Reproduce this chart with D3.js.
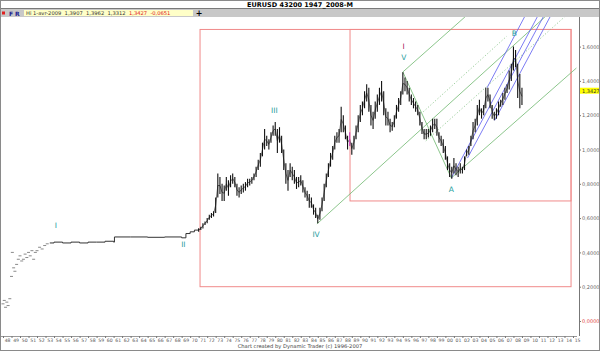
<!DOCTYPE html>
<html>
<head>
<meta charset="utf-8">
<script src="https://cdn.jsdelivr.net/npm/d3@7"></script>
<style>
  body { margin: 0; background: #fff; }
  svg { display: block; font-family: Tahoma, "DejaVu Sans", sans-serif; }
</style>
</head>
<body>
<div id="chart"></div>
<script>
// ---- data ----
// early scattered prints 1948-1953 : [year, price]
const earlyDashes = [
  [1948.0, 0.10], [1948.15, 0.12], [1948.3, 0.08], [1948.45, 0.11], [1948.6, 0.09], [1948.8, 0.13],
  [1949.0, 0.26], [1949.1, 0.40], [1949.25, 0.31], [1949.4, 0.29], [1949.6, 0.33], [1949.8, 0.36],
  [1950.0, 0.38], [1950.2, 0.35], [1950.4, 0.36], [1950.6, 0.39], [1950.8, 0.37], [1951.0, 0.40],
  [1951.2, 0.38], [1951.4, 0.41], [1951.6, 0.36], [1951.8, 0.40], [1952.0, 0.41], [1952.3, 0.43],
  [1952.6, 0.42], [1952.9, 0.44], [1953.2, 0.45]
]
// almost fixed rate 1953-1971 : [year, price]
const flatLine = [
  [1953.5, 0.455], [1954, 0.46], [1955, 0.455], [1956, 0.46], [1957, 0.455], [1958, 0.46],
  [1959, 0.46], [1960, 0.465], [1961, 0.46], [1961.1, 0.49], [1963, 0.49], [1965, 0.488],
  [1967, 0.49], [1969, 0.485], [1969.5, 0.51], [1970, 0.52], [1970.5, 0.53], [1971, 0.54]
]
// floating period, quarterly bars : [year, high, low]
const bars = [
  [1971.00,0.54,0.52],[1971.25,0.55,0.53],[1971.50,0.57,0.54],[1971.75,0.58,0.56],
  [1972.00,0.60,0.57],[1972.25,0.62,0.59],[1972.50,0.63,0.60],[1972.75,0.64,0.61],
  [1973.00,0.72,0.63],[1973.25,0.86,0.72],[1973.50,0.84,0.74],[1973.75,0.80,0.70],
  [1974.00,0.79,0.70],[1974.25,0.84,0.76],[1974.50,0.82,0.73],[1974.75,0.85,0.78],
  [1975.00,0.86,0.80],[1975.25,0.84,0.78],[1975.50,0.80,0.73],[1975.75,0.78,0.72],
  [1976.00,0.79,0.74],[1976.25,0.80,0.75],[1976.50,0.81,0.76],[1976.75,0.83,0.78],
  [1977.00,0.83,0.79],[1977.25,0.84,0.80],[1977.50,0.86,0.82],[1977.75,0.90,0.84],
  [1978.00,0.94,0.88],[1978.25,0.98,0.90],[1978.50,1.04,0.96],[1978.75,1.12,1.00],
  [1979.00,1.08,1.02],[1979.25,1.06,1.00],[1979.50,1.10,1.04],[1979.75,1.14,1.08],
  [1980.00,1.16,1.08],[1980.25,1.12,0.98],[1980.50,1.13,1.04],[1980.75,1.08,0.98],
  [1981.00,1.00,0.88],[1981.25,0.92,0.80],[1981.50,0.88,0.76],[1981.75,0.92,0.84],
  [1982.00,0.90,0.82],[1982.25,0.88,0.80],[1982.50,0.84,0.77],[1982.75,0.84,0.78],
  [1983.00,0.85,0.79],[1983.25,0.82,0.75],[1983.50,0.78,0.72],[1983.75,0.76,0.70],
  [1984.00,0.74,0.66],[1984.25,0.72,0.66],[1984.50,0.68,0.62],[1984.75,0.66,0.60],
  [1985.00,0.62,0.57],[1985.25,0.66,0.59],[1985.50,0.72,0.64],[1985.75,0.80,0.70],
  [1986.00,0.86,0.78],[1986.25,0.92,0.84],[1986.50,0.98,0.90],[1986.75,1.02,0.94],
  [1987.00,1.08,1.00],[1987.25,1.10,1.04],[1987.50,1.12,1.04],[1987.75,1.25,1.10],
  [1988.00,1.20,1.10],[1988.25,1.14,1.06],[1988.50,1.08,1.00],[1988.75,1.10,1.02],
  [1989.00,1.04,0.97],[1989.25,1.08,1.00],[1989.50,1.14,1.06],[1989.75,1.20,1.10],
  [1990.00,1.26,1.16],[1990.25,1.28,1.20],[1990.50,1.34,1.24],[1990.75,1.38,1.28],
  [1991.00,1.36,1.22],[1991.25,1.26,1.14],[1991.50,1.22,1.12],[1991.75,1.28,1.18],
  [1992.00,1.32,1.22],[1992.25,1.36,1.26],[1992.50,1.40,1.28],[1992.75,1.34,1.20],
  [1993.00,1.24,1.14],[1993.25,1.22,1.14],[1993.50,1.18,1.10],[1993.75,1.16,1.11],
  [1994.00,1.20,1.13],[1994.25,1.26,1.18],[1994.50,1.30,1.22],[1994.75,1.34,1.26],
  [1995.00,1.45,1.32],[1995.25,1.42,1.34],[1995.50,1.40,1.32],[1995.75,1.36,1.28],
  [1996.00,1.32,1.26],[1996.25,1.30,1.24],[1996.50,1.28,1.22],[1996.75,1.26,1.20],
  [1997.00,1.22,1.14],[1997.25,1.16,1.09],[1997.50,1.12,1.06],[1997.75,1.12,1.06],
  [1998.00,1.12,1.07],[1998.25,1.14,1.08],[1998.50,1.18,1.10],[1998.75,1.18,1.12],
  [1999.00,1.18,1.08],[1999.25,1.10,1.04],[1999.50,1.08,1.02],[1999.75,1.06,0.98],
  [2000.00,1.02,0.94],[2000.25,0.96,0.88],[2000.50,0.92,0.84],[2000.75,0.90,0.83],
  [2001.00,0.95,0.86],[2001.25,0.92,0.85],[2001.50,0.90,0.84],[2001.75,0.92,0.86],
  [2002.00,0.90,0.86],[2002.25,0.96,0.88],[2002.50,1.00,0.96],[2002.75,1.02,0.97],
  [2003.00,1.08,1.02],[2003.25,1.16,1.06],[2003.50,1.18,1.10],[2003.75,1.26,1.14],
  [2004.00,1.29,1.20],[2004.25,1.24,1.18],[2004.50,1.26,1.20],[2004.75,1.36,1.24],
  [2005.00,1.36,1.28],[2005.25,1.32,1.24],[2005.50,1.26,1.18],[2005.75,1.22,1.17],
  [2006.00,1.24,1.18],[2006.25,1.28,1.20],[2006.50,1.29,1.25],[2006.75,1.33,1.26],
  [2007.00,1.36,1.29],[2007.25,1.38,1.33],[2007.50,1.46,1.35],[2007.75,1.50,1.40],
  [2008.00,1.60,1.46],[2008.25,1.58,1.48],[2008.50,1.50,1.30],[2008.75,1.44,1.24],
  [2009.00,1.36,1.26]
]
// wave count : [year, price, label, colour]
const waveLabels = [
  [1954.2, 0.54, "I", "#1c9c9c"], [1969.2, 0.43, "II", "#1c9c9c"], [1979.9, 1.21, "III", "#1c9c9c"],
  [1984.8, 0.49, "IV", "#1c9c9c"], [1995.1, 1.52, "V", "#1c9c9c"], [1995.1, 1.585, "I", "#a0205a"],
  [2000.7, 0.75, "A", "#1c9c9c"], [2008.1, 1.66, "B", "#1c9c9c"]
]
// boxes : [year0, priceTop, year1, priceBottom]
const boxes = [[1971.16, 1.70, 2014.77, 0.20], [1988.79, 1.70, 2014.77, 0.70]]
// trend lines : [[year, price], [year, price]]
const greenLines = [
  [[1995.0, 1.452], [2002.3, 1.773]],
  [[1984.9, 0.566], [2011.7, 1.773]],
  [[2000.7, 0.834], [2015.4, 1.475]],
  [[1995.0, 1.452], [2000.7, 0.834]]
]
const dottedLines = [
  [[1997.7, 1.05], [2014.0, 1.773]],
  [[1997.4, 1.22], [2007.2, 1.66]]
]
const blueLines = [
  [[2000.7, 0.834], [2010.8, 1.773]],
  [[2004.9, 1.360], [2009.3, 1.773]],
  [[2005.8, 1.170], [2012.3, 1.773]],
  [[2002.6, 0.95], [2011.5, 1.773]]
]
const priceTicks = [0, 0.2, 0.4, 0.6, 0.8, 1.0, 1.2, 1.4, 1.6]
const yearTicks = d3.range(1948, 2016)
const lastPrice = 1.3427
const title = "EURUSD 43200 1947_2008-M"
const quoteBlack = "Hi 1-avr-2009  1,3907  1,3962  1,3312  "
const quoteRed = "1,3427  -0,0651"
const credit = "Chart created by Dynamic Trader  (c) 1996-2007"

// ---- drawing ----
const width = 600, height = 351
const svg = d3.select("#chart").append("svg")
  .attr("width", width).attr("height", height)

const x = d3.scaleLinear().domain([1948, 2015]).range([3, 573])
const y = d3.scaleLinear().domain([0, 1.6]).range([321, 46.6])
const fmt = v => d3.format(".4f")(v).replace(".", ",")

svg.append("rect").attr("width", width).attr("height", height).attr("fill", "#fff")

// tool bar + title
svg.append("rect").attr("x", 0).attr("y", 9).attr("width", width).attr("height", 8).attr("fill", "#c8c8c8")
svg.append("line").attr("x1", 0).attr("x2", width).attr("y1", 8.5).attr("y2", 8.5).attr("stroke", "#7a7a7a")
svg.append("text").attr("x", 300).attr("y", 6.6).attr("text-anchor", "middle")
  .attr("font-size", 6.5).attr("font-weight", "bold").text(title)
svg.append("rect").attr("x", 2).attr("y", 11.5).attr("width", 3).attr("height", 3).attr("fill", "#e02020")
svg.append("text").attr("x", 9).attr("y", 15.5).attr("font-size", 6).attr("font-weight", "bold")
  .attr("fill", "#202090").text("F")
svg.append("text").attr("x", 15).attr("y", 15.5).attr("font-size", 6).attr("font-weight", "bold")
  .attr("fill", "#202090").text("R")
svg.append("rect").attr("x", 24).attr("y", 10).attr("width", 169).attr("height", 6).attr("fill", "#ffffc8")
const q = svg.append("text").attr("x", 26).attr("y", 15).attr("font-size", 5.2).attr("xml:space", "preserve")
q.append("tspan").attr("fill", "#333").text(quoteBlack)
q.append("tspan").attr("fill", "#e02020").text(quoteRed)
svg.append("text").attr("x", 199).attr("y", 15.8).attr("text-anchor", "middle")
  .attr("font-size", 8).attr("font-weight", "bold").text("+")

// plot area
svg.append("clipPath").attr("id", "plot")
  .append("rect").attr("x", 1).attr("y", 17).attr("width", 578).attr("height", 319)
const g = svg.append("g").attr("clip-path", "url(#plot)")

// boxes
g.selectAll(".box").data(boxes).enter().append("rect")
  .attr("class", "box")
  .attr("x", d => x(d[0])).attr("y", d => y(d[1]))
  .attr("width", d => x(d[2]) - x(d[0])).attr("height", d => y(d[3]) - y(d[1]))
  .attr("fill", "none").attr("stroke", "#f08a8a").attr("stroke-width", 1)

const seg = (sel, data, color, dash) => sel.selectAll(null).data(data).enter().append("line")
  .attr("x1", d => x(d[0][0])).attr("y1", d => y(d[0][1]))
  .attr("x2", d => x(d[1][0])).attr("y2", d => y(d[1][1]))
  .attr("stroke", color).attr("stroke-width", 0.8)
  .attr("stroke-dasharray", dash)

seg(g, greenLines, "#6fb86f", null)
seg(g, dottedLines, "#7fbf7f", "1.2,2")
seg(g, blueLines, "#5a5af0", null)

// early prints
g.selectAll(".dash").data(earlyDashes).enter().append("line")
  .attr("x1", d => x(d[0]) - 1.5).attr("x2", d => x(d[0]) + 1.5)
  .attr("y1", d => y(d[1])).attr("y2", d => y(d[1]))
  .attr("stroke", "#8a8a8a").attr("stroke-width", 1)

g.append("path").datum(flatLine)
  .attr("d", d3.line().x(d => x(d[0])).y(d => y(d[1])).curve(d3.curveStepAfter))
  .attr("fill", "none").attr("stroke", "#333").attr("stroke-width", 1)

// price bars
const boxEdge = x(boxes[1][0])
g.append("path").datum(bars)
  .attr("d", d3.line().x(d => x(d[0])).y(d => y((d[1] + d[2]) / 2)))
  .attr("fill", "none").attr("stroke", "#333").attr("stroke-width", 0.7)
g.selectAll(".bar").data(bars).enter().append("line")
  .attr("class", "bar")
  .attr("x1", d => x(d[0])).attr("x2", d => x(d[0]))
  .attr("y1", d => y(d[1])).attr("y2", d => y(d[2]))
  .attr("stroke", d => Math.abs(x(d[0]) - boxEdge) < 1.2 ? "#d040c0" : "#111")
  .attr("stroke-width", 1.1)

// wave labels
g.selectAll(".wave").data(waveLabels).enter().append("text")
  .attr("x", d => x(d[0])).attr("y", d => y(d[1]))
  .attr("text-anchor", "middle").attr("font-size", 7.5)
  .attr("fill", d => d[3]).text(d => d[2])

// right price axis
const yAxis = svg.append("g").attr("transform", "translate(579,0)")
  .call(d3.axisRight(y).tickValues(priceTicks).tickSize(2).tickFormat(fmt))
yAxis.select(".domain").attr("d", "M0.5,17V336").attr("stroke", "#777")
yAxis.selectAll(".tick line").attr("stroke", "#777")
yAxis.selectAll(".tick text").attr("x", 3).attr("font-size", 5).attr("font-family", "Tahoma, 'DejaVu Sans', sans-serif")
  .attr("fill", d => d === 0 ? "#e04040" : "#666")
svg.append("rect").attr("x", 580).attr("y", y(lastPrice) - 3).attr("width", 20).attr("height", 6).attr("fill", "#ffff00")
svg.append("text").attr("x", 582).attr("y", y(lastPrice) + 2).attr("font-size", 5).attr("fill", "#333").text(fmt(lastPrice))

// bottom year axis
const xAxis = svg.append("g").attr("transform", "translate(0,336)")
  .call(d3.axisBottom(x).tickValues(yearTicks).tickSize(2).tickFormat(d => String(d % 100).padStart(2, "0")))
xAxis.select(".domain").attr("d", "M0,0.5H577").attr("stroke", "#999")
xAxis.selectAll(".tick line").attr("stroke", "#777")
xAxis.selectAll(".tick text").attr("y", 3).attr("dy", "0.6em").attr("x", 1.2).attr("text-anchor", "start")
  .attr("font-size", 4.6).attr("font-family", "Tahoma, 'DejaVu Sans', sans-serif").attr("fill", "#555")

svg.append("text").attr("x", 300).attr("y", 348).attr("text-anchor", "middle")
  .attr("font-size", 5.2).attr("fill", "#444").text(credit)

// frame
svg.append("rect").attr("x", 0.5).attr("y", 0.5).attr("width", width - 1).attr("height", height - 1)
  .attr("fill", "none").attr("stroke", "#8a8a8a")
</script>
</body>
</html>
